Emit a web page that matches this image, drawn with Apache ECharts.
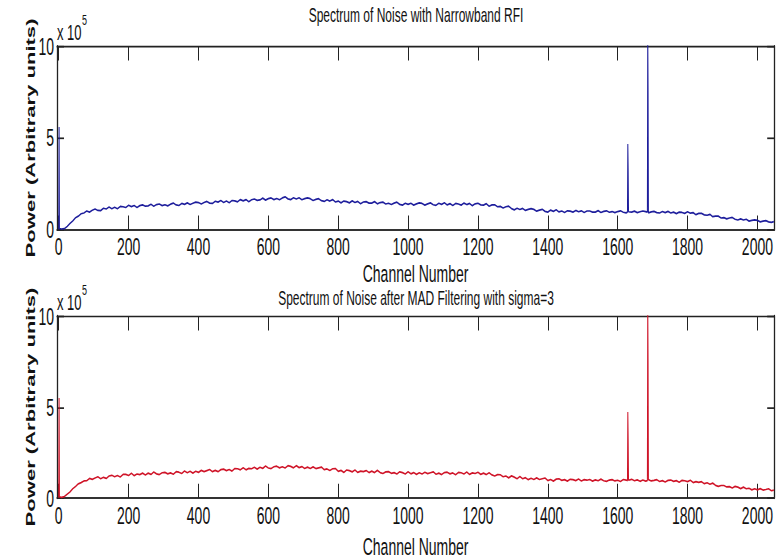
<!DOCTYPE html>
<html>
<head>
<meta charset="utf-8">
<script src="https://cdn.jsdelivr.net/npm/echarts@6/dist/echarts.min.js"></script>
<style>
  html, body { margin: 0; padding: 0; background: #fff; overflow: hidden; }
  #wrap { width: 776px; height: 560px; overflow: hidden; }
  /* The figure is laid out on a short canvas and stretched vertically,
     like a plot window resized to a taller frame. */
  #chart { width: 776px; height: 330px; transform: scaleY(1.69697); transform-origin: 0 0; }
</style>
</head>
<body>
<div id="wrap"><div id="chart"></div></div>
<script>
// Power in units of 1e5, sampled every 8 channels (0..2040) plus the last channel 2047.
const powerBefore = [
  0.03, 0.05, 0.07, 0.19, 0.35, 0.49, 0.66, 0.75, 0.88, 0.92,
  1.03, 0.97, 1.07, 1.14, 1.06, 1.05, 1.18, 1.14, 1.25, 1.15,
  1.23, 1.15, 1.28, 1.26, 1.22, 1.34, 1.27, 1.33, 1.22, 1.32,
  1.36, 1.29, 1.31, 1.40, 1.29, 1.38, 1.41, 1.32, 1.37, 1.31,
  1.40, 1.46, 1.36, 1.33, 1.44, 1.39, 1.47, 1.38, 1.45, 1.51,
  1.49, 1.41, 1.49, 1.55, 1.46, 1.44, 1.56, 1.51, 1.60, 1.49,
  1.57, 1.48, 1.60, 1.58, 1.53, 1.65, 1.58, 1.65, 1.53, 1.64,
  1.68, 1.61, 1.63, 1.73, 1.62, 1.70, 1.74, 1.65, 1.71, 1.64,
  1.74, 1.80, 1.69, 1.65, 1.75, 1.68, 1.75, 1.64, 1.70, 1.74,
  1.70, 1.60, 1.66, 1.70, 1.59, 1.55, 1.64, 1.57, 1.65, 1.52,
  1.57, 1.47, 1.57, 1.54, 1.47, 1.58, 1.49, 1.55, 1.42, 1.52,
  1.54, 1.46, 1.46, 1.54, 1.42, 1.49, 1.51, 1.41, 1.45, 1.38,
  1.46, 1.51, 1.39, 1.35, 1.45, 1.39, 1.45, 1.35, 1.42, 1.47,
  1.44, 1.35, 1.42, 1.47, 1.37, 1.34, 1.45, 1.39, 1.48, 1.36,
  1.43, 1.33, 1.44, 1.41, 1.35, 1.46, 1.38, 1.44, 1.32, 1.42,
  1.45, 1.36, 1.35, 1.43, 1.29, 1.36, 1.37, 1.26, 1.28, 1.19,
  1.26, 1.29, 1.16, 1.09, 1.18, 1.11, 1.17, 1.06, 1.12, 1.16,
  1.12, 1.02, 1.08, 1.12, 1.01, 0.97, 1.08, 1.01, 1.10, 0.98,
  1.03, 0.95, 1.04, 1.02, 0.97, 1.06, 0.99, 1.04, 0.95, 1.03,
  1.03, 0.97, 0.97, 1.05, 0.95, 1.01, 1.04, 0.96, 1.00, 0.94,
  1.00, 1.04, 0.96, 0.93, 1.01, 0.97, 1.02, 0.94, 0.99, 1.03,
  1.00, 0.93, 0.98, 1.01, 0.94, 0.92, 1.00, 0.94, 1.01, 0.92,
  0.97, 0.89, 0.97, 0.95, 0.90, 0.99, 0.91, 0.94, 0.83, 0.90,
  0.90, 0.82, 0.80, 0.85, 0.72, 0.75, 0.75, 0.65, 0.67, 0.60,
  0.65, 0.68, 0.58, 0.54, 0.60, 0.54, 0.58, 0.48, 0.52, 0.55,
  0.52, 0.44, 0.48, 0.51, 0.44, 0.41,
  0.45
];

const powerAfter = [
  0.02, 0.04, 0.08, 0.21, 0.33, 0.51, 0.63, 0.78, 0.85, 0.94,
  0.95, 1.08, 1.03, 1.10, 1.17, 1.06, 1.14, 1.08, 1.21, 1.25,
  1.17, 1.24, 1.16, 1.30, 1.30, 1.24, 1.36, 1.23, 1.32, 1.29,
  1.37, 1.27, 1.37, 1.30, 1.43, 1.33, 1.29, 1.39, 1.41, 1.33,
  1.38, 1.31, 1.45, 1.42, 1.35, 1.49, 1.39, 1.47, 1.37, 1.47,
  1.41, 1.52, 1.45, 1.51, 1.57, 1.45, 1.52, 1.45, 1.56, 1.59,
  1.51, 1.57, 1.48, 1.62, 1.61, 1.55, 1.67, 1.55, 1.63, 1.61,
  1.69, 1.59, 1.69, 1.63, 1.76, 1.65, 1.62, 1.72, 1.75, 1.66,
  1.72, 1.65, 1.78, 1.74, 1.66, 1.78, 1.67, 1.73, 1.62, 1.70,
  1.62, 1.71, 1.62, 1.66, 1.70, 1.56, 1.60, 1.51, 1.61, 1.62,
  1.47, 1.52, 1.41, 1.54, 1.51, 1.44, 1.54, 1.41, 1.48, 1.45,
  1.51, 1.40, 1.48, 1.40, 1.52, 1.40, 1.35, 1.44, 1.45, 1.36,
  1.40, 1.32, 1.44, 1.40, 1.32, 1.45, 1.33, 1.40, 1.30, 1.39,
  1.32, 1.42, 1.34, 1.39, 1.44, 1.31, 1.37, 1.29, 1.40, 1.42,
  1.33, 1.38, 1.28, 1.41, 1.39, 1.32, 1.43, 1.30, 1.38, 1.35,
  1.42, 1.30, 1.37, 1.29, 1.39, 1.27, 1.21, 1.29, 1.28, 1.17,
  1.21, 1.11, 1.22, 1.15, 1.06, 1.18, 1.06, 1.12, 1.01, 1.09,
  1.02, 1.11, 1.02, 1.06, 1.10, 0.96, 1.02, 0.93, 1.04, 1.06,
  0.97, 1.01, 0.93, 1.03, 1.01, 0.96, 1.05, 0.94, 1.01, 0.98,
  1.02, 0.93, 1.00, 0.95, 1.04, 0.95, 0.92, 0.99, 1.01, 0.94,
  0.98, 0.91, 1.02, 0.99, 0.93, 1.03, 0.95, 1.00, 0.92, 0.99,
  0.93, 1.01, 0.94, 0.97, 1.01, 0.91, 0.96, 0.88, 0.97, 0.99,
  0.92, 0.96, 0.87, 0.97, 0.95, 0.90, 0.98, 0.85, 0.90, 0.86,
  0.90, 0.79, 0.84, 0.76, 0.82, 0.70, 0.64, 0.69, 0.69, 0.61,
  0.63, 0.55, 0.64, 0.60, 0.52, 0.60, 0.51, 0.54, 0.45, 0.51,
  0.45, 0.52, 0.44, 0.47, 0.51, 0.40,
  0.44
];

// Narrowband interference and the DC bin, resolved channel by channel.
const spikeChannels    = [1, 2, 1628, 1629, 1630, 1631, 1685, 1686, 1687];
const spikePowerBefore = [5.6, 0.08, 0.97, 4.67, 3.30, 0.99, 0.97, 10.8, 7.6];
const spikePowerAfter  = [5.5, 0.07, 0.96, 4.73, 3.26, 0.98, 0.96, 10.8, 7.5];

const xTickValues = [0, 200, 400, 600, 800, 1000, 1200, 1400, 1600, 1800, 2000];

const titleTop = 'Spectrum of Noise with Narrowband RFI';
const titleBottom = 'Spectrum of Noise after MAD Filtering with sigma=3';
const xName = 'Channel Number';
const yName = 'Power (Arbitrary units)';

// Sampling grid of channels for the arrays above.
const sampleChannels = [];
for (let c = 0; c <= 2040; c += 8) sampleChannels.push(c);
sampleChannels.push(2047);

function buildSeries(values, spikes) {
  const pts = sampleChannels.map((c, i) => [c, values[i]]);
  spikeChannels.forEach((c, i) => pts.push([c, spikes[i]]));
  pts.sort((a, b) => a[0] - b[0]);
  return pts;
}

const FONT = '"Liberation Sans", Arial, Helvetica, sans-serif';
const INK = '#111';

// Vertical layout on the unstretched canvas (height 330).
const grids = [
  { left: 57, top: 27.1, width: 718, height: 108.4 },
  { left: 57, top: 186.2, width: 718, height: 108.4 }
];

function xAxes(gi, nameGap) {
  return [
    {
      type: 'value', gridIndex: gi, position: 'bottom', min: -5, max: 2048,
      name: xName, nameLocation: 'middle', nameGap: nameGap, nameMoveOverlap: false,
      nameTextStyle: { fontFamily: FONT, fontSize: 14, lineHeight: 12, color: INK },
      axisLine: { show: true, onZero: false, lineStyle: { color: '#333', width: 1.2 } },
      axisTick: { show: true, inside: true, length: 8.5, customValues: xTickValues, lineStyle: { color: '#222', width: 1 } },
      axisLabel: {
        show: true, margin: 4, lineHeight: 12, customValues: xTickValues,
        fontFamily: FONT, fontSize: 14, color: INK,
        formatter: (v) => String(v)
      },
      splitLine: { show: false }
    },
    {
      type: 'value', gridIndex: gi, position: 'top', min: -5, max: 2048,
      axisLine: { show: true, onZero: false, lineStyle: { color: '#222', width: 1 } },
      axisTick: { show: true, inside: true, length: 8.5, customValues: xTickValues, lineStyle: { color: '#222', width: 1 } },
      axisLabel: { show: false },
      splitLine: { show: false }
    }
  ];
}

function yAxes(gi) {
  return [
    {
      type: 'value', gridIndex: gi, position: 'left', min: 0, max: 10, interval: 5,
      name: yName, nameLocation: 'middle', nameRotate: 90, nameGap: 20, nameMoveOverlap: false,
      nameTextStyle: { fontFamily: FONT, fontSize: 13, fontWeight: 'bold', color: INK },
      axisLine: { show: true, onZero: false, lineStyle: { color: '#222', width: 1.3 } },
      axisTick: { show: true, inside: true, length: 7, lineStyle: { color: '#222', width: 1 } },
      axisLabel: { show: true, margin: 3, lineHeight: 12, fontFamily: FONT, fontSize: 14, color: INK },
      splitLine: { show: false }
    },
    {
      type: 'value', gridIndex: gi, position: 'right', min: 0, max: 10, interval: 5,
      axisLine: { show: true, onZero: false, lineStyle: { color: '#222', width: 1.3 } },
      axisTick: { show: true, inside: true, length: 7, lineStyle: { color: '#222', width: 1 } },
      axisLabel: { show: false },
      splitLine: { show: false }
    }
  ];
}

function textEl(x, y, text, size, align) {
  return {
    type: 'text', x: x, y: y, silent: true,
    style: {
      text: text, fill: INK, fontFamily: FONT, fontSize: size, lineHeight: size,
      align: align || 'center', verticalAlign: 'middle'
    }
  };
}

const chart = echarts.init(document.getElementById('chart'), null, { renderer: 'svg', width: 776, height: 330 });

chart.setOption({
  animation: false,
  backgroundColor: '#fff',
  grid: grids,
  xAxis: [...xAxes(0, 19.5), ...xAxes(1, 22.5)],
  yAxis: [...yAxes(0), ...yAxes(1)],
  graphic: [
    textEl(416, 8.8, titleTop, 12),
    textEl(416, 176, titleBottom, 12),
    textEl(57, 19.4, 'x 10', 13, 'left'),
    textEl(82, 11.8, '5', 9, 'left'),
    textEl(57, 178.5, 'x 10', 13, 'left'),
    textEl(82, 170.9, '5', 9, 'left')
  ],
  series: [
    {
      type: 'line', xAxisIndex: 0, yAxisIndex: 0,
      data: buildSeries(powerBefore, spikePowerBefore),
      showSymbol: false, clip: true,
      lineStyle: { color: '#1e1e9c', width: 1 }
    },
    {
      type: 'line', xAxisIndex: 2, yAxisIndex: 2,
      data: buildSeries(powerAfter, spikePowerAfter),
      showSymbol: false, clip: true,
      lineStyle: { color: '#cf1428', width: 1 }
    }
  ]
});
</script>
</body>
</html>
